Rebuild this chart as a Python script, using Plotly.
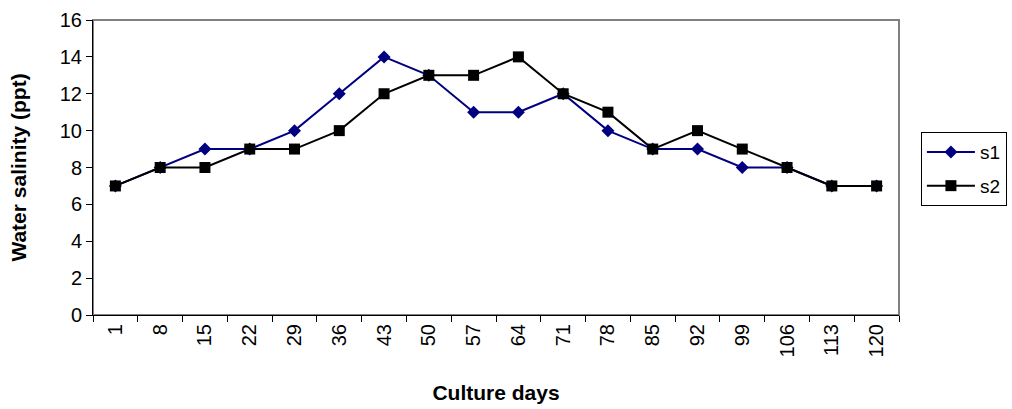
import plotly.graph_objects as go

days = ["1", "8", "15", "22", "29", "36", "43", "50", "57", "64", "71",
        "78", "85", "92", "99", "106", "113", "120"]
s1 = [7, 8, 9, 9, 10, 12, 14, 13, 11, 11, 12, 10, 9, 9, 8, 8, 7, 7]
s2 = [7, 8, 8, 9, 9, 10, 12, 13, 13, 14, 12, 11, 9, 10, 9, 8, 7, 7]

font = "Liberation Sans, Arial, sans-serif"

fig = go.Figure()
fig.add_trace(go.Scatter(
    x=days, y=s1, name="s1", mode="lines+markers", legendgroup="a",
    line=dict(color="#000080", width=2),
    marker=dict(symbol="diamond", size=10, color="#000080"),
))
fig.add_trace(go.Scatter(
    x=days, y=s2, name="s2", mode="lines+markers", legendgroup="b",
    line=dict(color="#000000", width=2),
    marker=dict(symbol="square", size=11, color="#000000"),
))

# grey frame around the plot area
fig.add_shape(type="rect", xref="paper", yref="paper", x0=0, y0=0, x1=1, y1=1,
              line=dict(color="#808080", width=2), layer="below")

fig.update_layout(
    width=1012, height=409,
    margin=dict(l=93, r=113, t=20, b=94),
    paper_bgcolor="white", plot_bgcolor="white",
    font=dict(family=font, size=16, color="black"),
    showlegend=True,
    legend=dict(
        xref="container", yref="container",
        x=0.910, y=0.677, xanchor="left", yanchor="top",
        bordercolor="black", borderwidth=1,
        font=dict(size=19), tracegroupgap=6, traceorder="grouped",
        itemwidth=48,
    ),
    xaxis=dict(
        type="category", tickson="boundaries", range=[-0.5, 17.5],
        automargin=False,
        ticks="outside", ticklen=6, tickcolor="black",
        showline=True, linecolor="black", linewidth=1,
        showgrid=False, tickangle=-90,
        tickfont=dict(size=20),
        title=dict(text="<b>Culture days</b>", font=dict(size=21), standoff=28),
    ),
    yaxis=dict(
        range=[0, 16], dtick=2, automargin=False,
        ticks="outside", ticklen=6, tickcolor="black",
        showline=True, linecolor="black", linewidth=1,
        showgrid=False, zeroline=False,
        tickfont=dict(size=20),
        title=dict(text="<b>Water salinity (ppt)</b>", font=dict(size=21), standoff=27),
    ),
)

fig.write_html("out.html")
